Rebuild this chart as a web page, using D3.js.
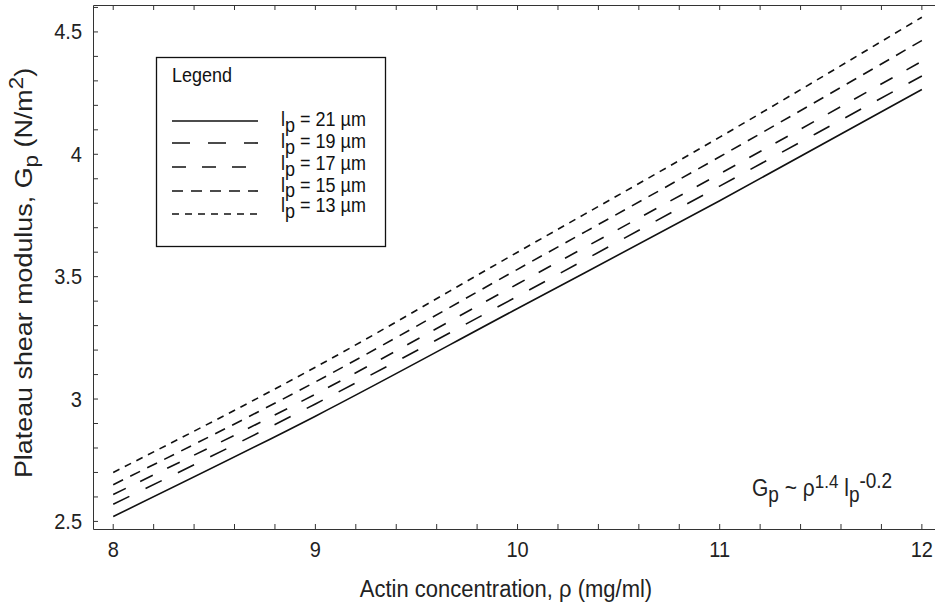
<!DOCTYPE html>
<html>
<head>
<meta charset="utf-8">
<script src="https://cdn.jsdelivr.net/npm/d3@7/dist/d3.min.js"></script>
<style>
  html, body { margin: 0; padding: 0; background: #fff; }
  svg { display: block; font-family: "Liberation Sans", Arial, sans-serif; }
</style>
</head>
<body>
<div id="chart"></div>
<script>
// Dados (G_p em N/m^2 vs. concentração de actina em mg/ml)
const concentrations = [8, 9, 10, 11, 12];
const gpLp21 = [2.52, 2.93, 3.37, 3.81, 4.265];
const gpLp19 = [2.57, 2.98, 3.42, 3.87, 4.32];
const gpLp17 = [2.61, 3.02, 3.47, 3.92, 4.38];
const gpLp15 = [2.65, 3.07, 3.53, 3.99, 4.465];
const gpLp13 = [2.70, 3.13, 3.60, 4.07, 4.56];
const persistenceLengths = [21, 19, 17, 15, 13];
const xTicks = [8, 9, 10, 11, 12];
const yTicks = [2.5, 3, 3.5, 4, 4.5];

(function () {
  'use strict';

  const W = 935, H = 604;
  const box = { left: 93, right: 935, top: 5, bottom: 529 };
  const axColor = '#333';
  const ink = '#222';
  const tickLen = 5;
  const stretch = 1.12;   // a figura original está um pouco esticada na vertical

  const series = [gpLp21, gpLp19, gpLp17, gpLp15, gpLp13];
  const dashes = [null, '18,18', '14,16', '11,8', '7,6'];

  const svg = d3.select('#chart').append('svg')
    .attr('width', W).attr('height', H);

  const x = d3.scaleLinear().domain([7.9, 12.065]).range([box.left, box.right]);
  const y = d3.scaleLinear().domain([2.469, 4.61]).range([box.bottom, box.top]);

  // texto horizontal posicionado pela linha de base, com o esticamento vertical
  function label(parent, px, py, size, anchor = 'start') {
    return parent.append('text')
      .attr('transform', `translate(${px},${py}) scale(1,${stretch})`)
      .attr('text-anchor', anchor)
      .attr('fill', ink)
      .style('font-size', size + 'px');
  }

  // Ticks menores (x a cada 0.2, y a cada 0.1) — todos para dentro
  const xMinor = d3.range(8, 12.001, 0.2);
  const yMinor = d3.range(2.5, 4.601, 0.1);

  const axes = svg.append('g').attr('stroke', axColor).attr('stroke-width', 1);
  axes.selectAll('line.xb').data(xMinor).join('line')
    .attr('x1', d => x(d)).attr('x2', d => x(d))
    .attr('y1', box.bottom).attr('y2', box.bottom - tickLen);
  axes.selectAll('line.xt').data(xMinor).join('line')
    .attr('x1', d => x(d)).attr('x2', d => x(d))
    .attr('y1', box.top).attr('y2', box.top + tickLen);
  axes.selectAll('line.yl').data(yMinor).join('line')
    .attr('x1', box.left).attr('x2', box.left + tickLen)
    .attr('y1', d => y(d)).attr('y2', d => y(d));

  // Moldura (sem borda direita, fica fora da imagem)
  axes.append('path')
    .attr('fill', 'none')
    .attr('d', `M${box.right},${box.top + 0.5}H${box.left + 0.5}V${box.bottom + 0.5}H${box.right}`);

  // Rótulos dos ticks
  const tickG = svg.append('g');
  xTicks.forEach(v => label(tickG, x(v), 557, 20, 'middle').text(v));
  yTicks.forEach(v => label(tickG, 82, y(v) + 7.5, 20, 'end').text(v));

  // Títulos dos eixos
  label(svg, 506, 597, 22, 'middle').text('Actin concentration, ρ (mg/ml)');

  const yt = svg.append('text')
    .attr('transform', `translate(32,273) rotate(-90) scale(${stretch},1)`)
    .attr('text-anchor', 'middle')
    .attr('fill', ink).style('font-size', '24px');
  yt.append('tspan').text('Plateau shear modulus, G');
  yt.append('tspan').attr('dy', 6).style('font-size', '20px').text('p');
  yt.append('tspan').attr('dy', -6).text(' (N/m');
  yt.append('tspan').attr('dy', -9).style('font-size', '20px').text('2');
  yt.append('tspan').attr('dy', 9).text(')');

  // Curvas
  const line = d3.line()
    .x((d, i) => x(concentrations[i]))
    .y(d => y(d))
    .curve(d3.curveMonotoneX);

  svg.append('g').selectAll('path').data(series).join('path')
    .attr('fill', 'none')
    .attr('stroke', '#111')
    .attr('stroke-width', 1.6)
    .attr('stroke-dasharray', (d, i) => dashes[i])
    .attr('d', line);

  // Legenda
  const lg = svg.append('g');
  lg.append('rect')
    .attr('x', 156.5).attr('y', 57.5).attr('width', 229).attr('height', 189)
    .attr('fill', '#fff').attr('stroke', '#111').attr('stroke-width', 1.3);
  label(lg, 172, 82, 18).attr('fill', '#111').text('Legend');

  const rowY = [120, 142, 164, 185.5, 206];
  const sampleY = [121, 143, 167, 191, 214];
  persistenceLengths.forEach((lp, i) => {
    lg.append('line')
      .attr('x1', 172).attr('x2', 258)
      .attr('y1', sampleY[i]).attr('y2', sampleY[i])
      .attr('stroke', '#111').attr('stroke-width', 1.6)
      .attr('stroke-dasharray', dashes[i]);
    const t = label(lg, 281, rowY[i] + 6, 18).attr('fill', '#111');
    t.append('tspan').text('l');
    t.append('tspan').attr('dy', 5).text('p');
    t.append('tspan').attr('dy', -5).text(` = ${lp} µm`);
  });

  // Anotação da lei de escala
  const ann = label(svg, 752, 496, 21);
  ann.append('tspan').text('G');
  ann.append('tspan').attr('dy', 5).style('font-size', '19px').text('p');
  ann.append('tspan').attr('dy', -5).text(' ~ ρ');
  ann.append('tspan').attr('dy', -7).style('font-size', '17px').text('1.4');
  ann.append('tspan').attr('dy', 7).text(' l');
  ann.append('tspan').attr('dy', 5).style('font-size', '19px').text('p');
  ann.append('tspan').attr('dy', -12).style('font-size', '19px').text('-0.2');
})();
</script>
</body>
</html>
